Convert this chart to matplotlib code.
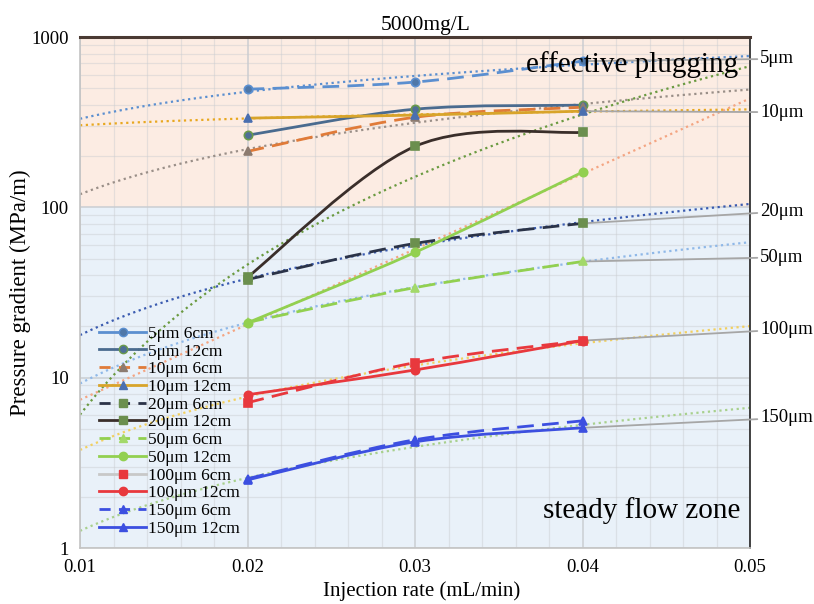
import matplotlib
matplotlib.use("Agg")
import matplotlib.pyplot as plt
import numpy as np
from matplotlib.lines import Line2D
from matplotlib.path import Path
from matplotlib.patches import PathPatch
from matplotlib.ticker import FixedLocator, MultipleLocator, LogLocator, NullFormatter

plt.rcParams["font.family"] = ["Liberation Serif", "DejaVu Serif"]

# injection rate (mL/min) and pressure gradient (MPa/m) per grain size / core length
rate = [0.02, 0.03, 0.04]
p5_6 = [494, 544, 722]
p5_12 = [265, 377, 398]
p10_6 = [213, 338, 387]
p10_12 = [334, 348, 367]
p20_6 = [37.7, 61.4, 80.5]
p20_12 = [38.9, 228, 276]
p50_6 = [21.1, 33.8, 48.1]
p50_12 = [21.0, 54.4, 161]
p100_6 = [7.13, 12.25, 16.5]
p100_12 = [7.94, 11.1, 16.5]
p150_6 = [2.55, 4.32, 5.58]
p150_12 = [2.51, 4.20, 5.08]

# label, values, line colour, linestyle, marker, marker face, marker edge, legend line colour, legend style
series = [
    ("5μm 6cm", p5_6, "#5b8fd0", (0, (6, 3)), "o", "#4f77a8", "#5b8fd0", "#5b8fd0", "-"),
    ("5μm 12cm", p5_12, "#4a6b8f", "-", "o", "#4e6f96", "#6a9a4a", "#4a6b8f", "-"),
    ("10μm 6cm", p10_6, "#e07b39", (0, (6, 3)), "^", "#8c7b70", "#8c7b70", "#e07b39", (0, (4, 3))),
    ("10μm 12cm", p10_12, "#d8a42a", "-", "^", "#4a6fb0", "#4a6fb0", "#d8a42a", "-"),
    ("20μm 6cm", p20_6, "#2b3348", (0, (6, 3)), "s", "#6b8f4e", "#6b8f4e", "#2b3348", (0, (4, 3))),
    ("20μm 12cm", p20_12, "#3a2e2a", "-", "s", "#6b8f4e", "#6b8f4e", "#3a2e2a", "-"),
    ("50μm 6cm", p50_6, "#92d050", (0, (6, 3)), "^", "#a3d96a", "#a3d96a", "#92d050", (0, (4, 3))),
    ("50μm 12cm", p50_12, "#92d050", "-", "o", "#92d050", "#92d050", "#92d050", "-"),
    ("100μm 6cm", p100_6, "#e8383d", (0, (6, 3)), "s", "#e8383d", "#e8383d", "#c8c8c8", "-"),
    ("100μm 12cm", p100_12, "#e8383d", "-", "o", "#e8383d", "#e8383d", "#e8383d", "-"),
    ("150μm 6cm", p150_6, "#3c4fe0", (0, (6, 3)), "^", "#3c4fe0", "#3c4fe0", "#3c4fe0", (0, (4, 3))),
    ("150μm 12cm", p150_12, "#3c4fe0", "-", "^", "#3c4fe0", "#3c4fe0", "#3c4fe0", "-"),
]

# trend lines: values, fit type, colour
trends = [
    (p5_6, "power", "#5b8fd0"),
    (p10_6, "power", "#9a8f88"),
    (p10_12, "power", "#e8a820"),
    (p20_6, "power", "#3a5bb0"),
    (p20_12, "power", "#6a9a40"),
    (p50_6, "power", "#8fb8e8"),
    (p50_12, "exp", "#f4a582"),
    (p100_12, "power", "#f2d060"),
    (p150_12, "power", "#a8d08d"),
]

# right-hand size labels: text, leader start value, label height
size_labels = [
    ("5μm", p5_6[-1], 744),
    ("10μm", p10_12[-1], 362),
    ("20μm", p20_6[-1], 94.5),
    ("50μm", p50_6[-1], 50.9),
    ("100μm", p100_12[-1], 19.2),
    ("150μm", p150_12[-1], 5.82),
]


def smooth_path(xs, ys):
    # Bezier through the points, built in (x, log y) so it follows the log axis
    pts = np.column_stack([xs, np.log10(ys)])
    n = len(pts)
    verts = [pts[0]]
    codes = [Path.MOVETO]
    for i in range(n - 1):
        prev = pts[max(i - 1, 0)]
        nxt = pts[min(i + 2, n - 1)]
        c1 = pts[i] + (pts[i + 1] - prev) / 6
        c2 = pts[i + 1] - (nxt - pts[i]) / 6
        verts += [c1, c2, pts[i + 1]]
        codes += [Path.CURVE4] * 3
    verts = np.array(verts)
    verts[:, 1] = 10 ** verts[:, 1]
    return Path(verts, codes)


fig = plt.figure(figsize=(8.14, 6.04), dpi=100)
ax = fig.add_axes([0.0983, 0.0927, 0.8231, 0.846])
ax.set_yscale("log")
ax.set_xlim(0.01, 0.05)
ax.set_ylim(1, 1000)

ax.axhspan(100, 1000, color="#fcece3", zorder=0)
ax.axhspan(1, 100, color="#e9f1f9", zorder=0)

ax.xaxis.set_major_locator(FixedLocator([0.01, 0.02, 0.03, 0.04, 0.05]))
ax.xaxis.set_minor_locator(MultipleLocator(0.002))
ax.yaxis.set_minor_locator(LogLocator(base=10, subs=np.arange(2, 10), numticks=20))
ax.yaxis.set_minor_formatter(NullFormatter())
ax.set_yticks([1, 10, 100, 1000])
ax.set_yticklabels(["1", "10", "100", "1000"])
ax.set_xticklabels(["0.01", "0.02", "0.03", "0.04", "0.05"])
ax.tick_params(which="both", length=0, labelsize=13.5, pad=8)
ax.grid(which="major", color="#c9ccd0", lw=1.3, alpha=0.8, zorder=1)
ax.grid(which="minor", color="#c9ccd0", lw=0.9, alpha=0.45, zorder=1)
ax.set_axisbelow(True)

for s in ["left", "bottom"]:
    ax.spines[s].set_color("#c4c4c4")
    ax.spines[s].set_linewidth(1.2)
ax.spines["top"].set_color("#4a3a33")
ax.spines["top"].set_linewidth(2.2)
ax.spines["right"].set_color("#333333")
ax.spines["right"].set_linewidth(1.3)

xfit = np.linspace(0.01, 0.05, 200)
lx = np.log(rate)
for vals, kind, col in trends:
    ly = np.log(vals)
    if kind == "power":
        b, a = np.polyfit(lx, ly, 1)
        yfit = np.exp(a) * xfit ** b
    else:
        b, a = np.polyfit(rate, ly, 1)
        yfit = np.exp(a + b * xfit)
    ax.plot(xfit, yfit, color=col, lw=1.6, ls=(0, (1, 1.6)), zorder=2)

handles = []
for label, vals, col, ls, mk, mfc, mec, lcol, lls in series:
    ax.add_patch(PathPatch(smooth_path(rate, vals), fill=False, edgecolor=col,
                           lw=2.0, linestyle=ls, zorder=3, capstyle="butt"))
    ax.plot(rate, vals, ls="none", marker=mk, ms=6, mfc=mfc, mec=mec, mew=1.2, zorder=4)
    handles.append(Line2D([], [], color=lcol, lw=2.0, ls=lls, marker=mk, ms=6,
                          mfc=mfc, mec=mec, label=label))

for text, start, ypos in size_labels:
    ax.annotate(text, xy=(0.04, start), xytext=(0.0506, ypos), textcoords="data",
                ha="left", va="center", fontsize=13.5, annotation_clip=False,
                arrowprops=dict(arrowstyle="-", color="#a6a6a6", lw=1.3,
                                shrinkA=0, shrinkB=1))

leg = ax.legend(handles=handles, loc="lower left", bbox_to_anchor=(0.012, 0.0),
                frameon=False, fontsize=12.5, labelspacing=0.09, handlelength=2.7,
                handletextpad=0.1, borderaxespad=0.25)
leg.set_zorder(5)

ax.text(0.0493, 690, "effective plugging", ha="right", va="center", fontsize=21, zorder=5)
ax.text(0.0494, 1.65, "steady flow zone", ha="right", va="center", fontsize=21, zorder=5)

ax.set_title("5000mg/L", fontsize=15.5, pad=5, x=0.516)
ax.set_xlabel("Injection rate (mL/min)", fontsize=15)
ax.xaxis.set_label_coords(0.51, -0.065)
ax.set_ylabel("Pressure gradient (MPa/m)", fontsize=16.5, labelpad=0)

fig.savefig("out.png", dpi=100)
